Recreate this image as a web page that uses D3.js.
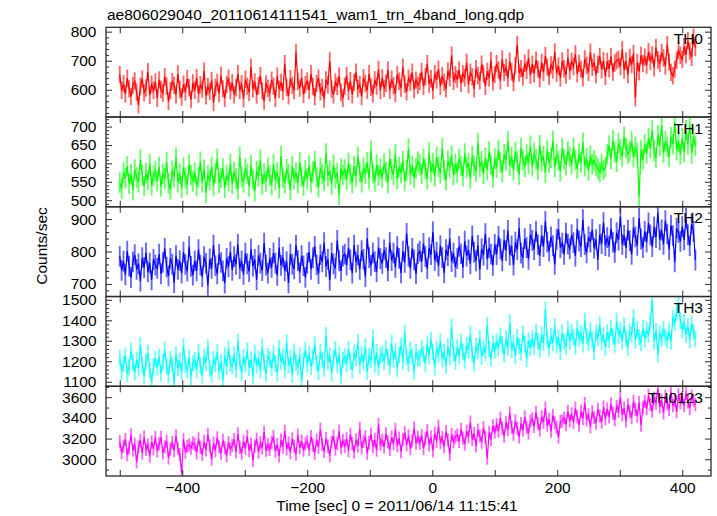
<!DOCTYPE html>
<html><head><meta charset="utf-8">
<script src="https://cdn.jsdelivr.net/npm/d3@7"></script>
<style>body{margin:0;background:#fff}svg{display:block}text{font-family:"Liberation Sans",Arial,Helvetica,sans-serif}</style>
</head><body><svg id="c" width="717" height="516"></svg>
<script>
const title = "ae806029040_20110614111541_wam1_trn_4band_long.qdp";
const xLabel = "Time [sec] 0 = 2011/06/14 11:15:41";
const yLabel = "Counts/sec";
const seriesNames = ["TH0","TH1","TH2","TH3","TH0123"];
const seriesColors = ["#ff0000","#00ff00","#0000ff","#00ffff","#ff00ff"];
const timeStart = -500, binSize = 3;
const xTicks = [-500,-400,-300,-200,-100,0,100,200,300,400];
const xTickLabels = [-400,-200,0,200,400];

const th0 = [
652,598,621,585,640,603,577,615,630,592,548,611,637,590,606,662,581,619,598,627,
571,634,601,589,645,612,560,597,628,615,583,654,600,575,619,592,638,607,566,623,
598,641,585,617,602,664,579,611,594,632,556,608,625,587,649,603,571,618,640,596,
624,583,607,655,598,621,569,636,612,591,678,603,627,582,614,648,596,561,620,605,
589,633,612,570,647,601,625,594,690,608,579,638,615,597,728,629,606,642,584,617,
630,598,655,611,576,622,640,593,608,568,634,617,699,601,583,626,612,647,590,571,
612,648,595,631,583,626,660,604,618,577,641,622,598,655,609,586,634,613,670,597,
641,605,622,668,598,636,614,587,652,629,606,678,619,593,640,625,660,601,633,615,
628,662,611,645,690,620,638,597,655,634,671,612,648,626,603,664,641,719,629,652,
637,668,622,655,641,694,618,660,645,603,672,649,631,688,654,612,663,640,701,627,
652,690,668,631,705,659,677,640,698,662,625,683,756,658,672,644,691,667,709,650,
688,655,702,671,639,694,660,717,678,646,685,669,730,657,681,640,699,672,651,711,
664,697,680,723,655,690,671,641,706,684,660,729,677,695,652,688,715,669,700,646,
697,672,714,661,692,700,705,680,738,668,699,652,711,687,725,572,694,662,718,690,
712,685,731,698,720,676,745,703,690,728,709,682,756,695,660,648,671,702,735,718,
704,748,720,769,733,712,781,745];

const th1 = [
548,531,575,560,592,545,570,528,583,562,549,610,567,538,574,555,598,541,566,579,
552,590,537,571,558,603,546,529,580,563,615,548,572,534,589,560,542,597,568,551,
575,538,562,604,549,583,520,567,555,591,540,573,612,547,561,586,533,569,552,598,
544,577,559,530,618,563,548,586,571,537,594,556,525,580,565,609,543,572,551,588,
567,541,598,555,576,533,620,561,547,584,570,528,592,558,575,546,602,563,539,581,
559,594,548,577,606,562,536,588,571,552,627,566,580,543,597,560,574,515,585,569,
583,556,601,570,547,592,565,618,576,549,588,571,603,558,634,574,551,596,567,585,
562,599,578,547,612,584,569,625,557,590,574,606,552,581,640,570,593,561,587,604,
596,571,612,585,558,629,577,601,564,618,590,573,642,582,555,607,589,621,568,598,
575,612,593,566,627,588,601,559,620,594,578,655,590,606,571,615,583,632,597,562,
613,588,636,602,577,625,608,660,594,617,581,631,605,570,642,610,591,624,599,648,
592,628,611,583,649,606,620,574,637,603,615,661,590,626,608,579,641,612,596,633,
618,597,642,609,585,627,603,656,592,614,580,621,598,608,594,585,576,598,582,590,
625,648,612,663,631,604,655,638,619,672,642,626,633,660,617,645,628,510,636,611,
652,627,668,641,690,634,615,677,648,703,629,660,645,618,671,652,712,636,659,625,
668,631,690,652,705,627,672,648];

const th2 = [
785,742,770,728,801,755,719,768,790,745,762,708,781,750,796,737,764,712,776,758,
748,792,731,766,810,752,725,779,761,704,787,745,772,733,798,760,739,815,754,727,
771,740,806,758,722,784,763,695,777,748,820,756,731,791,766,740,702,779,753,799,
742,784,760,823,747,771,729,795,762,738,807,755,776,712,788,764,741,826,758,733,
779,751,796,764,726,812,757,783,740,769,703,792,761,746,819,772,735,787,756,720,
764,798,745,781,816,759,732,790,768,827,753,776,711,795,762,748,834,771,740,786,
792,758,811,774,733,820,767,789,745,803,776,722,841,781,757,796,769,738,812,778,
763,805,781,740,828,772,796,751,815,779,734,801,766,856,785,748,810,774,731,793,
801,768,825,784,747,812,790,861,772,798,755,818,781,734,806,787,840,769,795,752,
778,816,793,750,832,786,805,762,848,797,771,819,744,808,789,855,776,811,792,757,
822,790,847,808,771,836,803,865,789,817,758,829,806,872,795,781,840,812,776,853,
834,806,862,821,787,850,815,893,829,801,845,818,760,838,869,812,826,791,857,823,
809,851,827,786,870,832,815,898,821,796,845,829,868,810,837,774,852,824,889,818,
843,816,871,829,797,858,835,908,822,850,811,866,833,791,874,845,819,903,838,812,
862,829,888,851,815,876,843,920,836,867,822,895,854,806,881,849,768,872,858,831,
877,836,902,851,818,885,862,773];

const th3 = [
1215,1150,1187,1226,1138,1172,1251,1194,1145,1208,1165,1280,1183,1129,1199,1240,1158,1102,1176,1213,
1169,1221,1140,1195,1256,1175,1133,1210,1188,1092,1232,1167,1201,1148,1274,1183,1156,1218,1124,1190,
1206,1158,1243,1179,1131,1221,1192,1268,1165,1137,1210,1186,1245,1150,1196,1109,1228,1174,1261,1190,
1175,1232,1160,1296,1198,1143,1219,1185,1252,1167,1208,1126,1240,1181,1213,1157,1270,1196,1139,1225,
1210,1167,1238,1188,1142,1265,1199,1224,1158,1291,1181,1216,1135,1247,1193,1170,1229,1105,1204,1257,
1185,1236,1172,1219,1281,1191,1150,1246,1208,1163,1327,1197,1228,1140,1214,1259,1182,1231,1126,1206,
1223,1188,1259,1201,1157,1242,1216,1293,1179,1234,1196,1270,1148,1225,1206,1315,1185,1244,1169,1228,
1237,1196,1262,1221,1174,1289,1208,1249,1163,1231,1276,1199,1340,1218,1187,1255,1227,1150,1244,1213,
1214,1263,1236,1189,1281,1225,1304,1246,1171,1258,1233,1297,1209,1247,1179,1272,1221,1368,1240,1198,
1268,1227,1296,1245,1203,1279,1254,1331,1236,1190,1275,1249,1312,1222,1266,1241,1377,1258,1213,1287,
1251,1297,1264,1325,1282,1233,1309,1268,1389,1257,1291,1226,1318,1275,1244,1336,1283,1212,1302,1266,
1311,1270,1342,1298,1257,1330,1289,1453,1306,1262,1323,1290,1371,1279,1315,1246,1339,1296,1270,1358,
1296,1341,1318,1272,1363,1310,1335,1283,1397,1322,1289,1351,1304,1246,1339,1316,1378,1295,1329,1268,
1341,1305,1362,1320,1281,1397,1326,1352,1298,1374,1312,1267,1345,1330,1415,1302,1356,1318,1289,1361,
1309,1352,1330,1390,1496,1296,1347,1235,1336,1310,1358,1320,1302,1345,1296,1412,1388,1435,1486,1398,
1352,1391,1329,1370,1305,1384,1343,1310];

const th0123 = [
3170,3065,3128,3190,3042,3109,3235,3087,3146,2975,3120,3182,3058,3213,3096,3137,3030,3165,3102,3210,
3078,3148,3210,3061,3119,3176,3013,3097,3160,3085,3225,3104,3045,2870,3190,3070,3125,3139,3108,3158,
3141,3063,3197,3112,3046,3170,3091,3238,3127,3002,3155,3084,3206,3120,3059,3183,3111,3035,3162,3098,
3132,3190,3071,3246,3115,3058,3173,3104,3221,3083,3147,2990,3126,3195,3069,3158,3110,3262,3087,3139,
3096,3164,3218,3079,3142,3033,3185,3117,3273,3101,3159,3064,3197,3128,3050,3232,3110,3176,3089,3148,
3171,3092,3219,3136,3060,3188,3117,3290,3143,3075,3201,3126,3035,3166,3224,3098,3153,3270,3111,3180,
3126,3198,3083,3241,3152,3069,3187,3130,3298,3109,3172,3216,3058,3161,3243,3120,3189,3087,3335,3146,
3182,3119,3246,3168,3095,3213,3150,3287,3131,3204,3074,3189,3258,3140,3226,3102,3177,3301,3155,3213,
3157,3228,3105,3196,3275,3140,3213,3082,3251,3174,3318,3162,3209,3121,3267,3188,3048,3239,3170,3215,
3235,3172,3289,3204,3146,3271,3218,3358,3190,3247,3129,3283,3226,3166,3305,3212,3010,3260,3193,3322,
3262,3335,3271,3398,3302,3224,3356,3288,3447,3310,3243,3372,3296,3214,3345,3281,3410,3306,3253,3368,
3391,3318,3452,3347,3282,3410,3360,3495,3329,3388,3271,3425,3352,3308,3215,3365,3370,3399,3338,3462,
3372,3438,3355,3491,3410,3329,3462,3396,3540,3381,3427,3315,3458,3403,3349,3482,3418,3360,3505,3392,
3487,3410,3536,3445,3382,3512,3466,3598,3430,3494,3371,3527,3458,3405,3560,3479,3420,3548,3331,3502,
3563,3490,3617,3528,3465,3591,3544,3680,3506,3572,3448,3609,3535,3482,3650,3518,3574,3460,3622,3547,
3592,3518,3640,3555,3493,3611,3570,3528];

const seriesValues = [th0, th1, th2, th3, th0123];
const seriesErrors = [30, 28, 32, 40, 64];
const yDomains = [[506,815],[482,726],[661,938],[1078,1516],[2838,3706]];
const yMajorTicks = [[600,700,800],[500,550,600,650,700],[700,800,900],[1100,1200,1300,1400,1500],[3000,3200,3400,3600]];
const yMinorStep = [20,10,20,20,100];

// layout
const L = 106, R = 711, T = 27.3, B = 476;
const nP = seriesValues.length;
const pH = (B - T) / nP;
const FS = "15.5px";
const axisCol = "#2a2a2a";

const svg = d3.select("#c");
svg.append("rect").attr("width",717).attr("height",516).attr("fill","#fff");

const x = d3.scaleLinear().domain([-522, 446]).range([L, R]);
const barW = Math.abs(x(binSize) - x(0));

seriesValues.forEach((vals, i) => {
  const top = T + i * pH, bot = top + pH;
  const y = d3.scaleLinear().domain(yDomains[i]).range([bot, top]);
  const g = svg.append("g");
  const cid = "clip" + i;
  svg.append("clipPath").attr("id", cid).append("rect")
    .attr("x", L).attr("y", top).attr("width", R - L).attr("height", pH);
  const data = vals.map((v, k) => ({t: timeStart + k * binSize, v}));
  const dg = g.append("g").attr("clip-path", `url(#${cid})`);
  const err = seriesErrors[i];
  dg.selectAll("line.err").data(data).join("line").attr("class","err")
    .attr("x1", d => x(d.t)).attr("x2", d => x(d.t))
    .attr("y1", d => y(d.v - err)).attr("y2", d => y(d.v + err))
    .attr("stroke", seriesColors[i]).attr("stroke-opacity", 0.6).attr("stroke-width", barW);
  dg.append("path").datum(data)
    .attr("d", d3.line().x(d => x(d.t)).y(d => y(d.v)))
    .attr("fill","none").attr("stroke", seriesColors[i]).attr("stroke-width", 1.2);

  const [d0, d1] = yDomains[i];
  const step = yMinorStep[i];
  const minor = d3.range(Math.ceil(d0/step)*step, d1 + 0.001, step).filter(v => !yMajorTicks[i].includes(v));
  const styleAxis = sel => {
    sel.select(".domain").remove();
    sel.selectAll(".tick line").attr("stroke", axisCol).attr("stroke-width", 1);
    sel.selectAll("text").attr("font-size", FS).attr("fill","#000").attr("font-family", '"Liberation Sans",Arial,sans-serif');
  };
  g.append("g").attr("transform", `translate(${L},0)`)
    .call(d3.axisLeft(y).tickValues(yMajorTicks[i]).tickSize(-6).tickPadding(9.5).tickFormat(d3.format("d"))).call(styleAxis);
  g.append("g").attr("transform", `translate(${L},0)`)
    .call(d3.axisLeft(y).tickValues(minor).tickSize(-3).tickFormat("")).call(styleAxis);
  g.append("g").attr("transform", `translate(${R},0)`)
    .call(d3.axisRight(y).tickValues(yMajorTicks[i]).tickSize(-6).tickFormat("")).call(styleAxis);
  g.append("g").attr("transform", `translate(${R},0)`)
    .call(d3.axisRight(y).tickValues(minor).tickSize(-3).tickFormat("")).call(styleAxis);
  g.append("g").attr("transform", `translate(0,${top})`)
    .call(d3.axisTop(x).tickValues(xTicks).tickSize(-6).tickFormat("")).call(styleAxis);
  g.append("g").attr("transform", `translate(0,${bot})`)
    .call(d3.axisBottom(x).tickValues(xTicks).tickSize(-6).tickPadding(6)
      .tickFormat(v => (i === nP - 1 && xTickLabels.includes(v)) ? d3.format("d")(v) : ""))
    .call(styleAxis);

  g.append("rect").attr("x", L).attr("y", top).attr("width", R - L).attr("height", pH)
    .attr("fill","none").attr("stroke", axisCol).attr("stroke-width", 1.3);

  g.append("text").attr("x", 703).attr("y", top + 16.5).attr("text-anchor","end")
    .attr("font-size", FS).attr("fill","#000").text(seriesNames[i]);
});

svg.append("text").attr("x", 107).attr("y", 19.5).attr("font-size", FS).attr("fill","#000").text(title);
svg.append("text").attr("x", 397).attr("y", 511).attr("text-anchor","middle").attr("font-size", FS).attr("fill","#000").text(xLabel);
svg.append("text").attr("transform","translate(47,246) rotate(-90)").attr("text-anchor","middle")
  .attr("font-size", FS).attr("fill","#000").text(yLabel);
</script></body></html>
